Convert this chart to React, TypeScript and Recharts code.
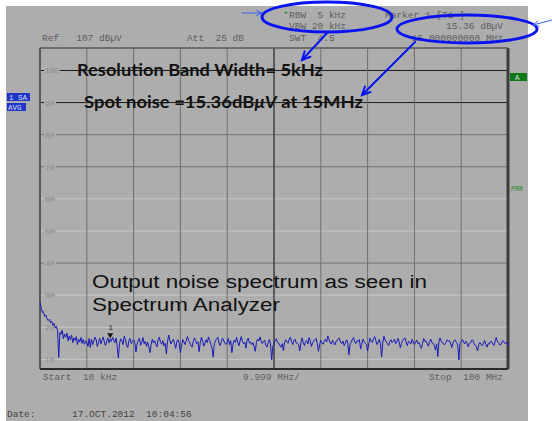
import React from "react"
import { LineChart, Line, XAxis, YAxis, ReferenceLine, ReferenceDot } from "recharts"

// sweep points 0..400 : 10 kHz .. 100 MHz, 9.999 MHz/div (40 points per division)
const noiseLevel = [
  27.8, 26.1, 24.6, 24.9, 23.4, 23.8, 22.7, 22.1, 22.5, 21.4, 21.9, 20.6, 21.2, 19.8, 20.3, 18.9, 10.6, 18.4, 17.8, 19.1,
  16.4, 17.9, 16.9, 18.2, 15.7, 17.3, 16.1, 17.6, 15.2, 16.7, 15.9, 17.1, 14.6, 16.3, 15.4, 16.8, 15.0, 16.2, 14.7, 15.8,
  15.3, 14.1, 16.5, 13.7, 16.2, 14.6, 15.8, 16.9, 16.1, 14.0, 15.3, 16.6, 14.8, 15.9, 17.0, 15.4, 14.3, 15.8, 16.7, 15.1,
  16.3, 15.6, 16.9, 16.0, 15.2, 16.6, 13.9, 10.4, 15.0, 16.4, 15.8, 14.6, 17.2, 16.1, 14.4, 13.7, 15.9, 16.5, 14.9, 15.6,
  16.1, 15.2, 12.3, 14.9, 15.9, 16.6, 14.4, 15.2, 16.8, 14.9, 15.6, 14.1, 15.4, 13.8, 12.1, 14.6, 16.3, 15.1, 15.8, 14.6,
  13.9, 16.2, 16.9, 15.3, 14.7, 15.9, 14.2, 15.0, 11.7, 15.4, 17.6, 16.0, 14.8, 15.6, 16.3, 14.9, 13.4, 15.7, 16.1, 15.0,
  12.1, 14.3, 16.2, 15.4, 14.6, 15.9, 17.1, 16.0, 15.2, 14.4, 13.8, 15.6, 16.7, 15.8, 14.9, 15.5, 12.4, 15.3, 16.9, 15.7,
  14.1, 15.0, 16.1, 15.2, 17.0, 15.9, 14.6, 13.6, 10.7, 14.9, 15.8, 16.4, 16.9, 15.1, 14.3, 15.6, 16.6, 15.8, 15.0, 14.7,
  15.2, 16.5, 14.6, 15.8, 12.1, 14.7, 16.0, 15.3, 16.9, 15.4, 14.2, 15.7, 17.1, 15.6, 14.8, 15.3, 13.5, 15.9, 16.6, 15.1,
  15.4, 14.6, 15.2, 14.0, 12.5, 15.3, 16.3, 15.7, 17.0, 15.8, 14.9, 15.5, 16.0, 14.4, 13.8, 15.2, 16.2, 14.8, 9.8, 14.1,
  14.6, 15.9, 16.4, 15.3, 15.1, 14.3, 13.8, 14.9, 12.7, 15.2, 16.1, 15.4, 15.0, 16.3, 16.9, 15.5, 14.6, 15.8, 16.3, 15.1,
  15.0, 14.7, 12.6, 15.1, 16.7, 15.2, 14.3, 15.6, 15.9, 14.8, 16.8, 15.7, 14.0, 15.2, 15.7, 16.1, 16.5, 14.9, 12.5, 14.6,
  15.9, 15.2, 14.7, 15.6, 16.3, 15.4, 17.3, 16.2, 15.1, 14.8, 16.0, 15.3, 14.5, 15.6, 15.8, 16.5, 16.6, 15.2, 14.9, 15.7,
  14.3, 15.0, 16.1, 15.4, 11.4, 14.8, 15.2, 16.2, 16.8, 15.5, 14.9, 15.8, 15.5, 16.2, 13.2, 14.7, 16.3, 15.6, 15.0, 14.6,
  12.6, 14.8, 16.6, 15.7, 15.3, 16.2, 17.1, 15.9, 14.6, 15.3, 16.2, 14.8, 10.8, 15.4, 17.2, 16.0, 15.4, 14.9, 14.3, 15.6,
  16.1, 15.2, 15.6, 16.3, 14.9, 15.5, 16.5, 15.4, 13.6, 15.0, 15.9, 16.4, 16.7, 15.1, 14.3, 15.7, 15.3, 14.8, 16.2, 15.4,
  14.6, 15.3, 16.0, 14.9, 15.2, 14.1, 13.4, 15.0, 16.5, 15.6, 15.7, 14.8, 14.1, 15.5, 16.3, 15.2, 15.0, 14.4, 12.9, 14.8,
  10.9, 15.6, 16.7, 15.5, 15.4, 14.7, 14.6, 15.3, 16.1, 15.6, 15.8, 14.9, 13.7, 15.1, 15.9, 16.0, 15.2, 14.6, 9.8, 15.0,
  15.5, 16.2, 15.4, 14.8, 15.7, 15.2, 13.9, 15.0, 15.1, 16.0, 16.0, 14.9, 14.4, 13.8, 12.6, 14.7, 15.3, 14.6, 14.2, 15.1,
  15.9, 14.7, 13.8, 14.9, 14.7, 15.6, 15.5, 14.8, 14.3, 15.7, 16.8, 15.4, 15.2, 14.5, 14.6, 15.6, 15.8, 15.1, 14.9, 15.4, 14.4,
]

const levelTicks = [10, 20, 30, 40, 50, 60, 70, 80, 90, 100]
const divisionIdx = [40, 80, 120, 160, 200, 240, 280, 320, 360]
const markerIdx = 60
const markerLevel = 16.3

const data = noiseLevel.map((v, i) => ({ i, v }))

const BG = "#adadad"
const MONO = "'Liberation Mono', 'DejaVu Sans Mono', monospace"
const S = "\u00a0"

const hLineColor: Record<number, string> = {
  100: "#1c1c1c",
  90: "#1c1c1c",
  80: "#737373",
  70: "#737373",
  60: "#c8c8c8",
  50: "#c8c8c8",
  40: "#737373",
  30: "#c8c8c8",
  20: "#c8c8c8",
  10: "#c8c8c8",
}

function LevelTick(props: any) {
  const { x, y, payload } = props
  const v = payload.value
  return (
    <g>
      {v >= 30 && <rect x={x - 4} y={y - 4} width={v === 100 ? 16 : 12} height={8} fill={BG} />}
      <text x={x - 3} y={y + 3} fontSize={8} fontFamily={MONO} fill="#8c8c8c">
        {v}
      </text>
    </g>
  )
}

function MarkerShape(props: any) {
  const { cx, cy } = props
  return (
    <g>
      <path d={`M${cx - 3},${cy - 6} L${cx + 3},${cy - 6} L${cx},${cy - 1} Z`} fill="#111" />
      <text x={cx - 2} y={cy - 9} fontSize={8} fontFamily={MONO} fill="#222">
        1
      </text>
    </g>
  )
}

function Arrow({ x1, y1, x2, y2, w, color, head }: any) {
  const a = Math.atan2(y2 - y1, x2 - x1)
  const p1 = [x2 - head * Math.cos(a - 0.45), y2 - head * Math.sin(a - 0.45)]
  const p2 = [x2 - head * Math.cos(a + 0.45), y2 - head * Math.sin(a + 0.45)]
  return (
    <g stroke={color} strokeWidth={w} fill="none" strokeLinecap="round">
      <line x1={x1} y1={y1} x2={x2} y2={y2} />
      <polyline points={`${p1[0]},${p1[1]} ${x2},${y2} ${p2[0]},${p2[1]}`} />
    </g>
  )
}

export default function App() {
  return (
    <div style={{ position: "absolute", left: 0, top: 0, width: 552, height: 421, background: "#fff", overflow: "hidden" }}>
      <div style={{ position: "absolute", left: 6, top: 6, width: 522, height: 415, background: BG }} />
      <div style={{ position: "absolute", left: 0, top: 0 }}>
        <LineChart width={552} height={421} data={data} margin={{ top: 48, right: 44, bottom: 52, left: 40 }}>
          <XAxis dataKey="i" type="number" domain={[0, 400]} hide />
          {levelTicks.map((t) => (
            <ReferenceLine key={`h${t}`} y={t} stroke={hLineColor[t]} strokeWidth={1} />
          ))}
          {divisionIdx.map((d) => (
            <ReferenceLine
              key={`v${d}`}
              x={d}
              stroke={d === 200 ? "#474747" : "#6e6e6e"}
              strokeWidth={d === 200 ? 1.6 : 1}
            />
          ))}
          <YAxis
            type="number"
            domain={[7, 107]}
            ticks={levelTicks}
            mirror
            width={40}
            axisLine={false}
            tickLine={false}
            tick={<LevelTick />}
          />
          <ReferenceLine x={0} stroke="#5a5a5a" strokeWidth={2} />
          <ReferenceLine x={400} stroke="#3c3c3c" strokeWidth={3} />
          <ReferenceLine y={107} stroke="#5a5a5a" strokeWidth={1.5} />
          <ReferenceLine y={7} stroke="#2a2a2a" strokeWidth={2} />
          <Line type="linear" dataKey="v" stroke="#1a1ab8" strokeWidth={1} dot={false} isAnimationActive={false} />
          <ReferenceDot x={markerIdx} y={markerLevel} shape={<MarkerShape />} />
        </LineChart>
      </div>
      <svg width={552} height={421} style={{ position: "absolute", left: 0, top: 0, pointerEvents: "none" }}>
        <g fontFamily={MONO} fontSize={9.5} fill="#5e5e5e">
          <text x={42} y={41}>{`Ref${S}${S}${S}107${S}dBµV`}</text>
          <text x={187} y={41}>{`Att${S}${S}25${S}dB`}</text>
          <text x={283} y={18} fill="#1a8a1a">*</text>
          <text x={289} y={18}>{`RBW${S}${S}5${S}kHz`}</text>
          <text x={289} y={29}>{`VBW${S}20${S}kHz`}</text>
          <text x={289} y={41}>{`SWT${S}${S}4.5`}</text>
          <text x={385} y={18}>{`Marker${S}1${S}[T1${S}]`}</text>
          <text x={503} y={29} textAnchor="end">{`15.36${S}dBµV`}</text>
          <text x={503} y={41} textAnchor="end">{`15.000000000${S}MHz`}</text>
          <text x={43} y={380}>{`Start${S}${S}10${S}kHz`}</text>
          <text x={243} y={380}>{`9.999${S}MHz/`}</text>
          <text x={503} y={380} textAnchor="end">{`Stop${S}${S}100${S}MHz`}</text>
          <text x={7} y={417} fill="#444">Date:</text>
          <text x={72} y={417} fill="#444">{`17.OCT.2012${S}${S}10:04:56`}</text>
        </g>
        <rect x={7} y={93} width={23} height={8} fill="#1f36c8" />
        <text x={9} y={100} fontFamily={MONO} fontSize={7.5} fill="#dde">{`1${S}SA`}</text>
        <rect x={7} y={103} width={19} height={8} fill="#1f36c8" />
        <text x={8} y={110} fontFamily={MONO} fontSize={7.5} fill="#dde">AVG</text>
        <rect x={510} y={73} width={17} height={8} fill="#0d7a16" />
        <text x={515} y={80} fontFamily={MONO} fontSize={7.5} fill="#dde">A</text>
        <text x={511} y={191} fontFamily={MONO} fontSize={6.5} fontStyle="italic" fill="#1a8a1a">PRN</text>

        <g fontFamily="Lato, 'Open Sans', sans-serif" fontWeight="bold" fontSize={17} fill="#111">
          <text x={77} y={76} textLength={246} lengthAdjust="spacingAndGlyphs">Resolution Band Width= 5kHz</text>
          <text x={84} y={108} textLength={279} lengthAdjust="spacingAndGlyphs">
            Spot noise =15.36dB<tspan fontStyle="italic">μV</tspan> at 15MHz
          </text>
        </g>
        <g fontFamily="'Liberation Sans', Arial, sans-serif" fontSize={18} fill="#111">
          <text x={92} y={288} textLength={335} lengthAdjust="spacingAndGlyphs">Output noise spectrum as seen in</text>
          <text x={92} y={311} textLength={188} lengthAdjust="spacingAndGlyphs">Spectrum Analyzer</text>
        </g>

        <ellipse cx={327} cy={17} rx={65} ry={15} fill="none" stroke="#0a14f0" strokeWidth={3} />
        <ellipse cx={467} cy={29} rx={70} ry={14} fill="none" stroke="#0a14f0" strokeWidth={3} />
        <Arrow x1={328} y1={32} x2={302} y2={60} w={2} color="#0a14f0" head={9} />
        <Arrow x1={415} y1={42} x2={362} y2={95} w={2} color="#0a14f0" head={9} />
        <Arrow x1={242} y1={13} x2={262} y2={13} w={1} color="#3a5cf0" head={6} />
        <Arrow x1={552} y1={20} x2={533} y2={25} w={1} color="#3a5cf0" head={6} />
      </svg>
    </div>
  )
}
